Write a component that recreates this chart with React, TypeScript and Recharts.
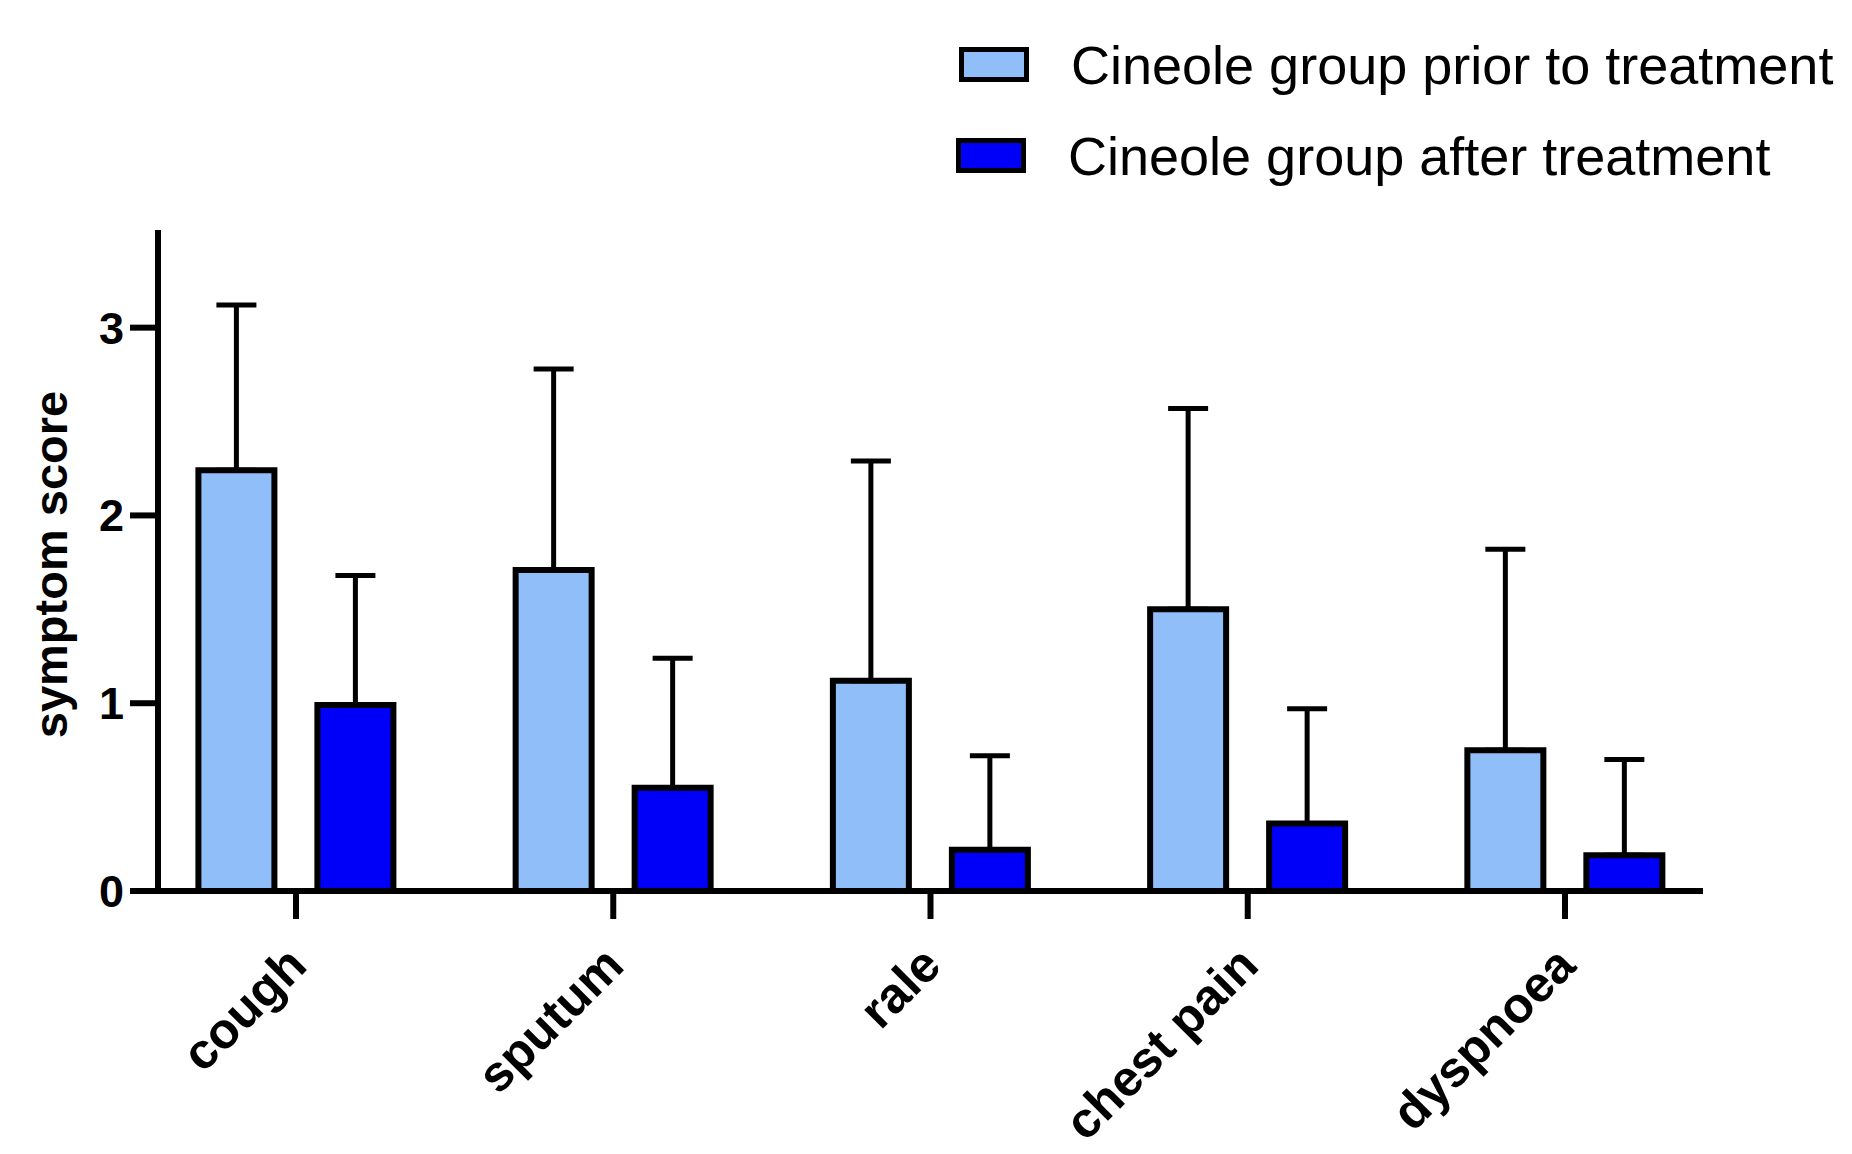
import React from 'react';
import { BarChart, Bar, XAxis, YAxis, ErrorBar, Legend } from 'recharts';

const categories = ['cough', 'sputum', 'rale', 'chest pain', 'dyspnoea'];
const priorMean = [2.24, 1.71, 1.12, 1.5, 0.75];
const priorSD = [0.88, 1.07, 1.17, 1.07, 1.07];
const afterMean = [0.99, 0.55, 0.22, 0.36, 0.19];
const afterSD = [0.69, 0.69, 0.5, 0.61, 0.51];
const yTicks = [0, 1, 2, 3];
const seriesNames = ['Cineole group prior to treatment', 'Cineole group after treatment'];

const data = categories.map((name, i) => ({
  name,
  prior: priorMean[i],
  priorErr: [0, priorSD[i]],
  after: afterMean[i],
  afterErr: [0, afterSD[i]],
}));

const FONT = '"Liberation Sans", Arial, Helvetica, sans-serif';
const LIGHT = '#90BEF8';
const DARK = '#0000FA';

const XTick = (props: any) => {
  const { x, y, payload } = props;
  return (
    <g transform={`translate(${x + 13},${y + 47})`}>
      <text
        transform="rotate(-45)"
        textAnchor="end"
        fontSize={50}
        fontWeight={700}
        fontFamily={FONT}
        fill="#000"
      >
        {payload.value}
      </text>
    </g>
  );
};

const YLabel = (props: any) => {
  const vb = props.viewBox || { x: 38, y: 230, width: 120, height: 661 };
  const cx = vb.x + 12;
  const cy = vb.y + vb.height / 2 + 4;
  return (
    <text
      x={cx}
      y={cy}
      transform={`rotate(-90, ${cx}, ${cy})`}
      textAnchor="middle"
      dominantBaseline="central"
      fontSize={47}
      fontWeight={700}
      fontFamily={FONT}
      fill="#000"
    >
      symptom score
    </text>
  );
};

const renderLegend = (props: any) => {
  const items = [...(props.payload || [])].sort(
    (a: any, b: any) => seriesNames.indexOf(a.value) - seriesNames.indexOf(b.value)
  );
  return (
    <div style={{ fontFamily: FONT }}>
      {items.map((entry: any, i: number) => (
        <div
          key={i}
          style={{
            display: 'flex',
            alignItems: 'center',
            height: 35,
            marginBottom: 56,
            marginLeft: i === 0 ? 1 : -2,
          }}
        >
          <div
            style={{
              width: 70,
              height: 35,
              boxSizing: 'border-box',
              border: '5px solid #000',
              background: entry.color,
            }}
          />
          <span
            style={{
              marginLeft: 42,
              fontSize: 54,
              lineHeight: 1,
              color: '#000',
              whiteSpace: 'nowrap',
            }}
          >
            {entry.value}
          </span>
        </div>
      ))}
    </div>
  );
};

export default function App() {
  return (
    <div style={{ position: 'absolute', left: 0, top: 0, width: 1852, height: 1154, background: '#fff' }}>
      <BarChart
        width={1852}
        height={1154}
        data={data}
        margin={{ top: 230, right: 149, bottom: 203, left: 38 }}
        barSize={76}
        barGap={43}
      >
        <XAxis
          dataKey="name"
          height={60}
          padding={{ left: -20.6, right: -20.6 }}
          axisLine={{ stroke: '#000', strokeWidth: 6 }}
          tickLine={{ stroke: '#000', strokeWidth: 6 }}
          tickSize={28}
          tickMargin={2}
          tick={<XTick />}
          interval={0}
        />
        <YAxis
          width={120}
          domain={[0, 3.52]}
          ticks={yTicks}
          allowDataOverflow
          axisLine={{ stroke: '#000', strokeWidth: 6 }}
          tickLine={{ stroke: '#000', strokeWidth: 6 }}
          tickSize={28}
          tickMargin={6}
          tick={{ fontSize: 45, fontWeight: 700, fill: '#000', fontFamily: FONT }}
          label={<YLabel />}
        />
        <Legend
          layout="vertical"
          align="center"
          verticalAlign="middle"
          wrapperStyle={{ left: 958, top: 47, width: 894, height: 140 }}
          content={renderLegend}
        />
        <Bar
          dataKey="prior"
          name={seriesNames[0]}
          fill={LIGHT}
          stroke="#000"
          strokeWidth={6}
          isAnimationActive={false}
        >
          <ErrorBar dataKey="priorErr" width={20} stroke="#000" strokeWidth={5} direction="y" />
        </Bar>
        <Bar
          dataKey="after"
          name={seriesNames[1]}
          fill={DARK}
          stroke="#000"
          strokeWidth={6}
          isAnimationActive={false}
        >
          <ErrorBar dataKey="afterErr" width={20} stroke="#000" strokeWidth={5} direction="y" />
        </Bar>
      </BarChart>
    </div>
  );
}
